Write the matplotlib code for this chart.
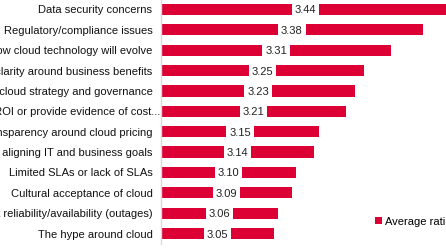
import matplotlib
matplotlib.use("Agg")
import matplotlib.pyplot as plt
from matplotlib.patches import Patch

categories = [
    "Data security concerns",
    "Regulatory/compliance issues",
    "Uncertainty about how cloud technology will evolve",
    "Lack of clarity around business benefits",
    "Lack of cloud strategy and governance",
    "Inability to measure ROI or provide evidence of cost...",
    "Lack of transparency around cloud pricing",
    "Difficulty in aligning IT and business goals",
    "Limited SLAs or lack of SLAs",
    "Cultural acceptance of cloud",
    "Concerns about reliability/availability (outages)",
    "The hype around cloud",
]
values = [3.44, 3.38, 3.31, 3.25, 3.23, 3.21, 3.15, 3.14, 3.10, 3.09, 3.06, 3.05]
series_name = "Average rating"

plt.rcParams['font.family'] = ['Liberation Sans', 'DejaVu Sans']
color = "#DC0035"

W, H = 446, 251
fig = plt.figure(figsize=(W / 100, H / 100), dpi=100)
ax = fig.add_axes([161 / W, 1 - 244.7 / H, 316 / W, 244.4 / H])

xmin = 2.8
ypos = list(range(len(categories)))
ax.barh(ypos, [v - xmin for v in values], left=xmin, height=0.55,
        color=color, zorder=2)
ax.set_xlim(xmin, 3.5)
ax.set_ylim(len(categories) - 0.5, -0.5)

for y, v in zip(ypos, values):
    ax.text((xmin + v) / 2, y, f"{v:.2f}", ha="center", va="center",
            fontsize=8, color="#222222", zorder=3,
            bbox=dict(boxstyle="square,pad=0.25", fc="white", ec="none"))

# category labels (the truncated one overflows toward the axis, as in the source)
px = 72 / 100
for y, lab in zip(ypos, categories):
    off = -1 if lab.endswith("...") else -8.5
    ax.annotate(lab, xy=(0, y), xycoords=("axes fraction", "data"),
                xytext=(off * px, 0), textcoords="offset points",
                ha="right", va="center", fontsize=8, color="#111111",
                annotation_clip=False)

ax.set_yticks([])
ax.set_xticks([])
for s in ["top", "right", "bottom"]:
    ax.spines[s].set_visible(False)
ax.spines["left"].set_color("#D9D9D9")
ax.spines["left"].set_linewidth(1)

handle = Patch(facecolor=color, edgecolor="none")
fig.legend([handle], [series_name], loc="center left",
           bbox_to_anchor=(375 / W, 1 - 222 / H), frameon=False,
           fontsize=8, handlelength=0.6, handleheight=0.6,
           handletextpad=0.3, borderpad=0, borderaxespad=0)

fig.savefig("out.png", dpi=100)
